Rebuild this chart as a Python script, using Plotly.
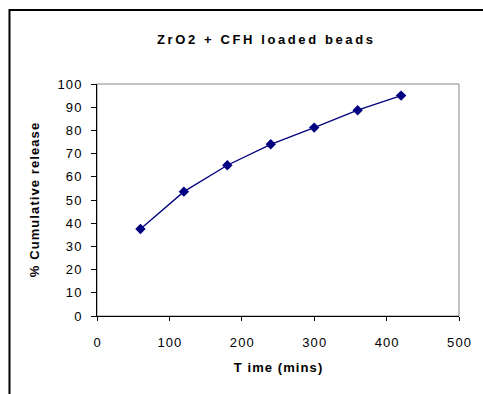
import plotly.graph_objects as go

time_mins = [60, 120, 180, 240, 300, 360, 420]
cum_release = [37.5, 53.6, 65.0, 74.0, 81.2, 88.7, 95.0]
x_ticks = [0, 100, 200, 300, 400, 500]
y_ticks = [0, 10, 20, 30, 40, 50, 60, 70, 80, 90, 100]

TS = "\u2009"  # thin space for letter spacing
HS = "\u200a"  # hair space


def spaced(s, sep):
    return sep.join(list(s))


W, H = 483, 394
L, R, T, B = 97, 22, 84, 78
pw, ph = W - L - R, H - T - B

fig = go.Figure()
fig.add_trace(go.Scatter(
    x=time_mins, y=cum_release, mode="lines+markers",
    line=dict(color="#000080", width=1.3),
    marker=dict(symbol="diamond", size=8, color="#000080"),
    showlegend=False, hoverinfo="skip",
))

font = "Liberation Sans, Arial, sans-serif"
fig.update_layout(
    width=W, height=H,
    margin=dict(l=L, r=R, t=T, b=B),
    paper_bgcolor="white", plot_bgcolor="white",
    font=dict(family=font, size=13, color="black"),
    title=dict(text="<b>" + spaced("ZrO2 + CFH loaded beads", TS) + "</b>",
               x=265 / W, xanchor="center", y=1 - 39 / H, yanchor="middle",
               font=dict(size=13, family=font)),
    xaxis=dict(range=[0, 500], tickvals=x_ticks,
               ticktext=[spaced(str(v), HS) for v in x_ticks],
               ticks="outside", ticklen=4,
               tickcolor="black", showline=True, linecolor="black", linewidth=1,
               showgrid=False, zeroline=False, mirror=False,
               tickfont=dict(size=13), ticklabelstandoff=10,
               title=dict(text="<b>" + spaced("T ime (mins)", HS) + "</b>",
                          font=dict(size=13), standoff=14)),
    yaxis=dict(range=[0, 100], tickvals=y_ticks,
               ticktext=[spaced(str(v), HS) for v in y_ticks],
               ticks="outside", ticklen=5,
               tickcolor="black", showline=True, linecolor="black", linewidth=1,
               showgrid=False, zeroline=False,
               tickfont=dict(size=13), ticklabelstandoff=7,
               title=dict(text="<b>" + spaced("% Cumulative release", HS) + "</b>",
                          font=dict(size=13), standoff=14)),
    shapes=[
        dict(type="rect", xref="paper", yref="paper", x0=0, y0=0, x1=1, y1=1,
             line=dict(color="#888888", width=1), layer="below"),
        dict(type="rect", xref="paper", yref="paper",
             x0=(9 - L) / pw, x1=(W + 10 - L) / pw,
             y0=-(B + 10) / ph, y1=1 + (T - 10) / ph,
             line=dict(color="black", width=2)),
    ],
)
fig.write_html("out.html")
